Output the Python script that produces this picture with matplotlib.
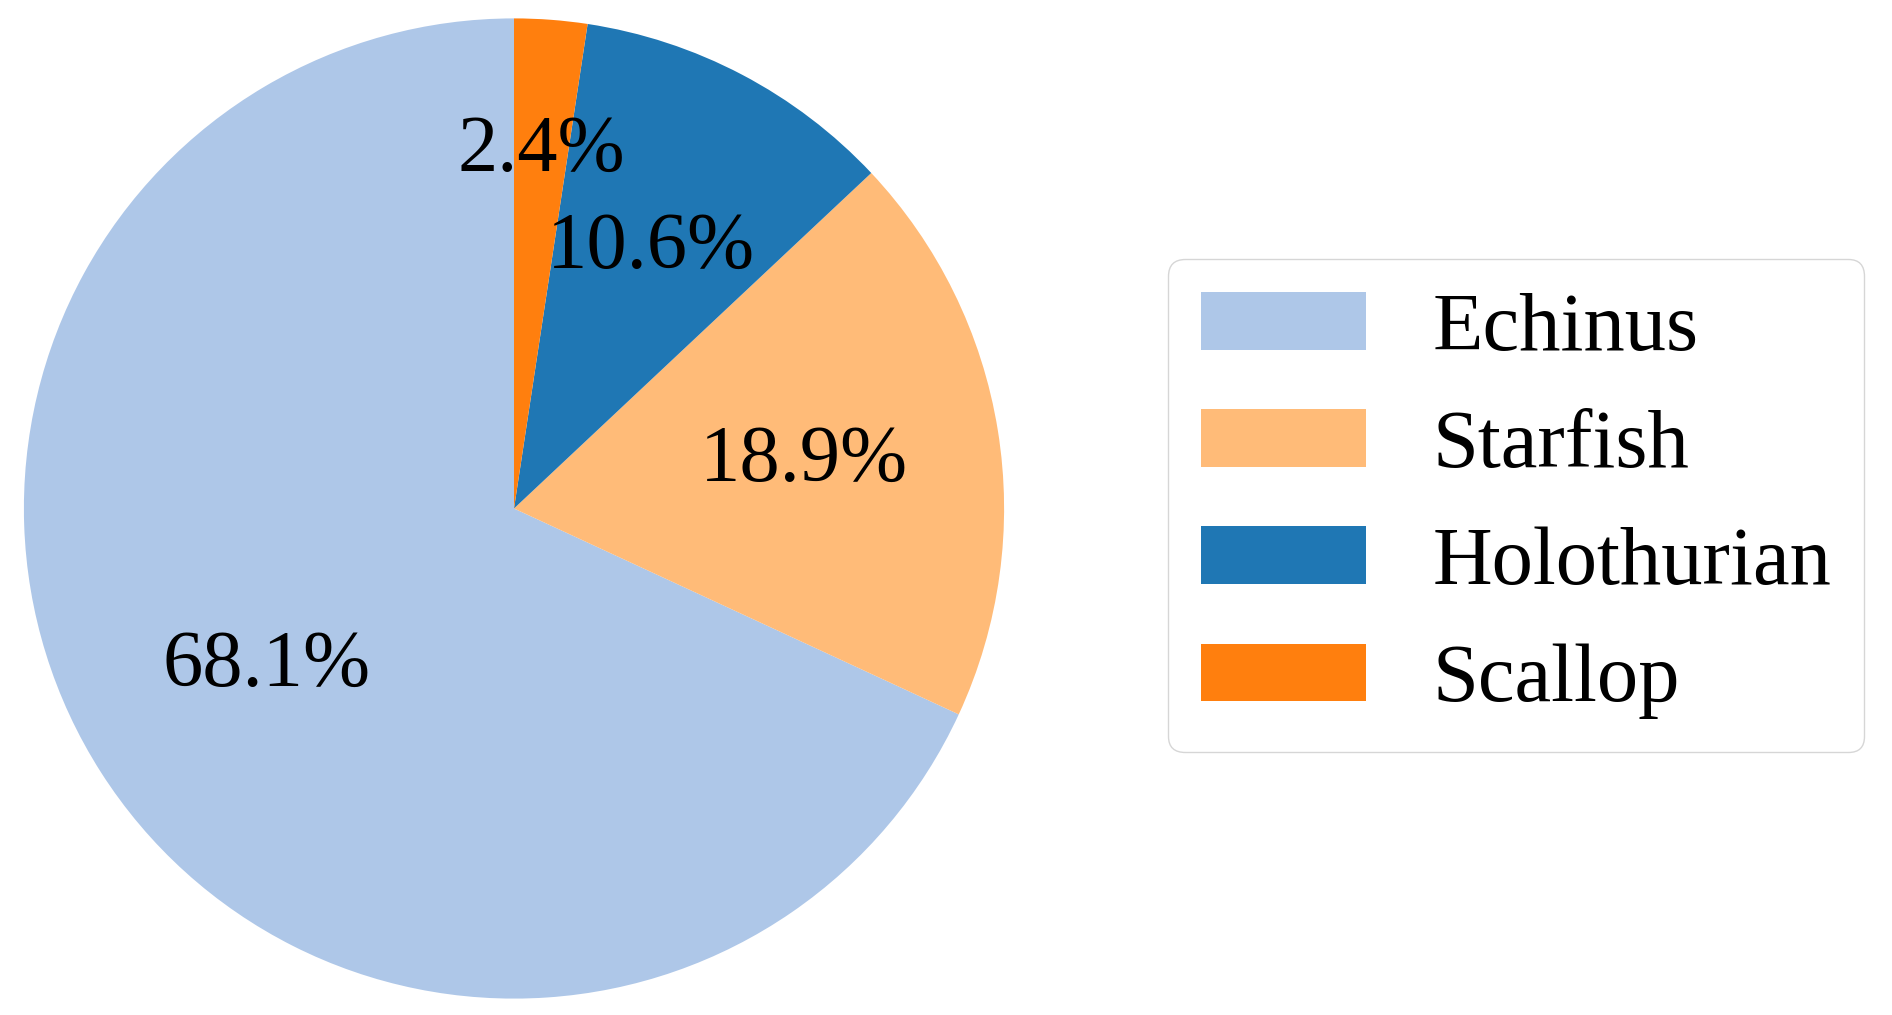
import matplotlib
matplotlib.use('Agg')
import matplotlib.pyplot as plt

labels = ['Echinus', 'Starfish', 'Holothurian', 'Scallop']
shares = [68.1, 18.9, 10.6, 2.4]
colors = ['#aec7e8', '#ffbb78', '#1f77b4', '#ff7f0e']

plt.rcParams['font.family'] = ['Liberation Serif', 'DejaVu Serif']

fig = plt.figure(figsize=(18.92, 10.15), dpi=100)
# pie axes, square, placed in pixels
ax = fig.add_axes([19 / 1892, 11.5 / 1015, 990 / 1892, 990 / 1015])
wedges, texts, autotexts = ax.pie(shares, colors=colors, startangle=90,
                                  autopct='%1.1f%%', pctdistance=0.6,
                                  textprops={'fontsize': 58})
ax.set_xlim(-1.01, 1.01)
ax.set_ylim(-1.01, 1.01)
ax.set_aspect('equal')

# the small Scallop label sits further out so it clears 10.6%
x, y = autotexts[3].get_position()
autotexts[3].set_position((x * 0.73 / 0.6, y * 0.73 / 0.6))

fig.legend(wedges, labels, loc='upper left',
           bbox_to_anchor=(1168 / 1892, 1 - 259 / 1015), borderaxespad=0,
           fontsize=59.5, handlelength=2.0, handleheight=0.7,
           handletextpad=0.8)

fig.savefig('out.png', dpi=100)
